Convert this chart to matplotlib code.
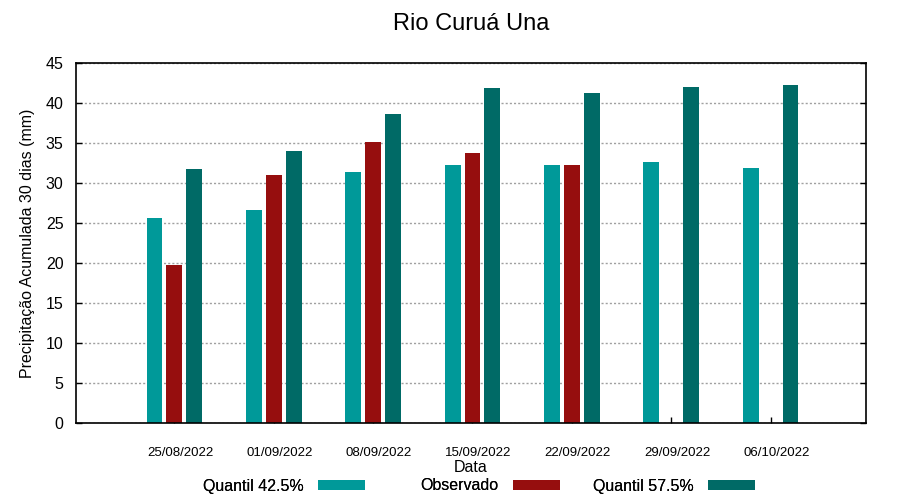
import matplotlib
matplotlib.use("Agg")
import matplotlib.pyplot as plt
import matplotlib.transforms as mtransforms
import numpy as np

plt.rcParams['font.family'] = ['Liberation Sans', 'DejaVu Sans']

dates = ["25/08/2022", "01/09/2022", "08/09/2022", "15/09/2022",
         "22/09/2022", "29/09/2022", "06/10/2022"]
q425 = [25.6, 26.6, 31.4, 32.25, 32.25, 32.6, 31.9]
observado = [19.75, 31.0, 35.1, 33.75, 32.25, np.nan, np.nan]
q575 = [31.75, 34.0, 38.6, 41.9, 41.25, 42.0, 42.25]
yticks = [0, 5, 10, 15, 20, 25, 30, 35, 40, 45]

c_q425 = "#009999"
c_obs = "#960e0e"
c_q575 = "#006a66"

fig = plt.figure(figsize=(9, 5), dpi=100)
ax = fig.add_axes([76/900, 77/500, 790/900, 360/500])

x = np.arange(len(dates))
w = 0.16
off = 0.2
b1 = ax.bar(x - off, q425, width=w, color=c_q425, label="Quantil 42.5%", zorder=3)
b2 = ax.bar(x, observado, width=w, color=c_obs, label="Observado", zorder=3)
b3 = ax.bar(x + off, q575, width=w, color=c_q575, label="Quantil 57.5%", zorder=3)

ax.set_xlim(-0.99, 6.96)
ax.set_ylim(0, 45)
ax.set_yticks(yticks)
ax.set_xticks(x)
ax.set_xticklabels(dates, fontsize=9.5)
ax.tick_params(axis='y', labelsize=11.5, direction='in', length=4.5, width=1,
               left=True, right=True, pad=9)
ax.tick_params(axis='x', direction='in', length=4.5, width=1, top=False, pad=17)
shift = mtransforms.ScaledTranslation(6/100, 0, fig.dpi_scale_trans)
for lab in ax.get_xticklabels():
    lab.set_transform(lab.get_transform() + shift)

ax.yaxis.grid(True, color="#a0a0a0", linestyle=(0, (1.5, 1.5)), linewidth=1, zorder=0)
ax.xaxis.grid(False)
for s in ax.spines.values():
    s.set_linewidth(1.2)
    s.set_zorder(4)

ax.set_ylabel("Precipitação Acumulada 30 dias (mm)", fontsize=11.5, labelpad=7.5)
ax.set_xlabel("Data", fontsize=11.5, labelpad=1)
fig.text(0.523, 0.951, "Rio Curuá Una", ha="center", va="center", fontsize=17)

# gnuplot-style legend: equal-width columns, text before the sample
for h, xr in zip([b1, b2, b3], [365, 560, 755]):
    fig.add_artist(fig.legend(handles=[h], loc="center right",
                              bbox_to_anchor=(xr / 900, 0.028), frameon=False,
                              markerfirst=False, fontsize=11.5, handlelength=2.95,
                              handleheight=0.65, handletextpad=0.9,
                              borderpad=0, borderaxespad=0))

fig.savefig("out.png", dpi=100)
